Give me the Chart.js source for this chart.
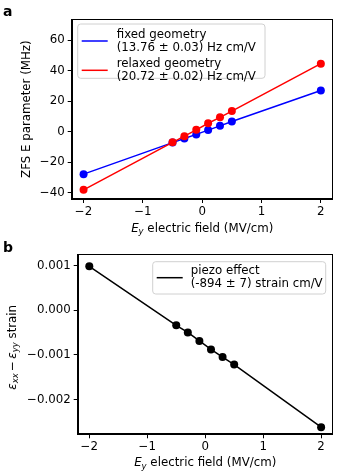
<!DOCTYPE html>
<html>
<head>
<meta charset="utf-8">
<script src="https://cdn.jsdelivr.net/npm/chart.js@4"></script>
<style>
  html, body { margin: 0; padding: 0; background: #fff; }
  #wrap { position: relative; width: 343px; height: 475px; }
  canvas { position: absolute; left: 0; }
  #chart-a { top: 0; }
  #chart-b { top: 240px; }
</style>
</head>
<body>
<div id="wrap">
  <canvas id="chart-a" width="343" height="240"></canvas>
  <canvas id="chart-b" width="343" height="235"></canvas>
</div>
<script>
// electric field values (MV/cm)
const fieldValues = [-2, -0.5, -0.3, -0.1, 0.1, 0.3, 0.5, 2];

// panel a: ZFS E parameter (MHz)
const fixedGeometry = [-27.8, -7.1, -4.4, -1.7, 1.1, 3.9, 6.7, 27.1];
const relaxedGeometry = [-38.1, -6.9, -2.9, 1.3, 5.6, 9.5, 13.6, 44.7];

// panel b: strain
const piezoStrain = [0.00098, -0.00034, -0.00050, -0.00069, -0.00088, -0.00105, -0.00122, -0.00262];

const xTicks = [-2, -1, 0, 1, 2];
const yTicksA = [-40, -20, 0, 20, 40, 60];
const yTicksB = [-0.002, -0.001, 0, 0.001];

const fixedLabel = ["fixed geometry", "(13.76 \u00b1 0.03) Hz cm/V"];
const relaxedLabel = ["relaxed geometry", "(20.72 \u00b1 0.02) Hz cm/V"];
const piezoLabel = ["piezo effect", "(-894 \u00b1 7) strain cm/V"];

const xTitle = { sym: "E", sub: "y", rest: " electric field (MV/cm)" };
const yTitleA = "ZFS E parameter (MHz)";

const FONT = "DejaVu Sans";
const FS = 11.8;

function fmtMinus(v, digits) {
    const s = digits ? Math.abs(v).toFixed(digits) : String(Math.abs(v));
    return v < 0 ? "\u2212" + s : s;
}

function toPoints(xs, ys) {
    return xs.map((x, i) => ({ x: x, y: ys[i] }));
}

function f(size, style) {
    return (style ? style + " " : "") + size + "px '" + FONT + "'";
}

// draw frame, legend, axis titles and panel letter
const decorPlugin = {
    id: "decor",
    afterDraw(chart, args, opts) {
        const ctx = chart.ctx;
        const a = chart.chartArea;
        ctx.save();

        // full box around axes
        ctx.strokeStyle = "#000";
        ctx.lineWidth = 1;
        ctx.strokeRect(Math.round(a.left) + 0.5, Math.round(a.top) + 0.5,
            Math.round(a.right - a.left) - 1, Math.round(a.bottom - a.top) - 1);

        // legend
        const lg = opts.legend;
        const bx = lg.fromRight ? a.right - lg.dx - lg.w : a.left + lg.dx;
        const by = a.top + lg.dy;
        ctx.beginPath();
        ctx.roundRect(bx, by, lg.w, lg.h, 3);
        ctx.fillStyle = "rgba(255,255,255,0.8)";
        ctx.fill();
        ctx.strokeStyle = "#d0d0d0";
        ctx.stroke();
        ctx.font = f(FS);
        ctx.textBaseline = "middle";
        lg.entries.forEach((e, i) => {
            const cy = by + lg.firstY + i * lg.step;
            ctx.strokeStyle = e.color;
            ctx.lineWidth = 1.5;
            ctx.beginPath();
            ctx.moveTo(bx + 4, cy);
            ctx.lineTo(bx + 30, cy);
            ctx.stroke();
            ctx.fillStyle = "#000";
            ctx.textAlign = "left";
            ctx.fillText(e.text[0], bx + lg.textX, cy - 6.3);
            ctx.fillText(e.text[1], bx + lg.textX, cy + 6.5);
        });

        // x title with italic E and subscript y
        ctx.fillStyle = "#000";
        ctx.textBaseline = "alphabetic";
        ctx.textAlign = "left";
        const itFont = f(FS, "italic");
        const subFont = f(FS * 0.72, "italic");
        const nFont = f(FS);
        ctx.font = itFont; const w1 = ctx.measureText(xTitle.sym).width;
        ctx.font = subFont; const w2 = ctx.measureText(xTitle.sub).width;
        ctx.font = nFont; const w3 = ctx.measureText(xTitle.rest).width;
        let x0 = (a.left + a.right) / 2 - (w1 + w2 + w3) / 2;
        const base = a.bottom + opts.xTitleGap;
        ctx.font = itFont; ctx.fillText(xTitle.sym, x0, base);
        ctx.font = subFont; ctx.fillText(xTitle.sub, x0 + w1, base + 2.5);
        ctx.font = nFont; ctx.fillText(xTitle.rest, x0 + w1 + w2, base);

        // y title (rotated)
        ctx.translate(opts.yTitleX, (a.top + a.bottom) / 2 + (opts.yTitleShift || 0));
        ctx.rotate(-Math.PI / 2);
        ctx.textBaseline = "middle";
        const parts = opts.yTitle;
        let tw = 0;
        parts.forEach(p => { ctx.font = p.font; p.w = ctx.measureText(p.t).width; tw += p.w; });
        let px = -tw / 2;
        parts.forEach(p => {
            ctx.font = p.font;
            ctx.fillText(p.t, px, p.dy || 0);
            px += p.w;
        });
        ctx.restore();

        // panel letter
        ctx.save();
        ctx.fillStyle = "#000";
        ctx.font = f(14, "bold");
        ctx.textBaseline = "middle";
        ctx.textAlign = "left";
        ctx.fillText(opts.letter, 3, opts.letterY);
        ctx.restore();
    }
};

function makeScales(yTicks, yMin, yMax, yDigits, yWidth, xHeight) {
    return {
        x: {
            type: "linear",
            min: -2.2,
            max: 2.2,
            afterBuildTicks: s => { s.ticks = xTicks.map(v => ({ value: v })); },
            afterFit: s => { s.height = xHeight; },
            grid: { drawOnChartArea: false, drawTicks: true, tickLength: 4, color: "#000" },
            border: { display: true, color: "#000", width: 1 },
            ticks: {
                color: "#000",
                padding: 2,
                maxRotation: 0,
                font: { family: FONT, size: FS },
                callback: v => fmtMinus(v, 0)
            }
        },
        y: {
            type: "linear",
            min: yMin,
            max: yMax,
            afterBuildTicks: s => { s.ticks = yTicks.map(v => ({ value: v })); },
            afterFit: s => { s.width = yWidth; },
            grid: { drawOnChartArea: false, drawTicks: true, tickLength: 4, color: "#000" },
            border: { display: true, color: "#000", width: 1 },
            ticks: {
                color: "#000",
                padding: 3,
                font: { family: FONT, size: FS },
                callback: v => fmtMinus(v, yDigits)
            }
        }
    };
}

function lineSet(label, xs, ys, color, order) {
    return {
        label: label.join(" "),
        data: toPoints(xs, ys),
        borderColor: color,
        backgroundColor: color,
        borderWidth: 1.5,
        pointRadius: 4,
        pointBorderWidth: 0,
        pointHoverRadius: 4,
        order: order
    };
}

const commonOpts = {
    responsive: false,
    animation: false,
    devicePixelRatio: 1
};

new Chart(document.getElementById("chart-a").getContext("2d"), {
    type: "line",
    data: {
        datasets: [
            lineSet(fixedLabel, fieldValues, fixedGeometry, "#0000ff", 1),
            lineSet(relaxedLabel, fieldValues, relaxedGeometry, "#ff0000", 0)
        ]
    },
    options: Object.assign({}, commonOpts, {
        layout: { padding: { top: 19.3, right: 10.3, left: 0, bottom: 0 } },
        scales: makeScales(yTicksA, -44.1, 73.8, 0, 71.7, 41),
        plugins: {
            legend: { display: false },
            tooltip: { enabled: false },
            decor: {
                letter: "a",
                letterY: 12,
                xTitleGap: 32.5,
                yTitleX: 27,
                yTitle: [{ t: yTitleA, font: f(FS) }],
                legend: {
                    dx: 6, dy: 4.7, w: 187.3, h: 54.3, textX: 39, firstY: 17, step: 29.3,
                    entries: [
                        { color: "#0000ff", text: fixedLabel },
                        { color: "#ff0000", text: relaxedLabel }
                    ]
                }
            }
        }
    }),
    plugins: [decorPlugin]
});

new Chart(document.getElementById("chart-b").getContext("2d"), {
    type: "line",
    data: {
        datasets: [lineSet(piezoLabel, fieldValues, piezoStrain, "#000000", 0)]
    },
    options: Object.assign({}, commonOpts, {
        layout: { padding: { top: 14.3, right: 10.3, left: 0, bottom: 0 } },
        scales: makeScales(yTicksB, -0.00278, 0.00125, 3, 77.7, 40.7),
        plugins: {
            legend: { display: false },
            tooltip: { enabled: false },
            decor: {
                letter: "b",
                letterY: 8,
                xTitleGap: 32,
                yTitleX: 13.3,
                yTitleShift: 3,
                yTitle: [
                    { t: "\u03b5", font: f(FS, "italic") },
                    { t: "xx", font: f(FS * 0.72, "italic"), dy: 2.5 },
                    { t: "\u2009\u2212\u2009", font: f(FS) },
                    { t: "\u03b5", font: f(FS, "italic") },
                    { t: "yy", font: f(FS * 0.72, "italic"), dy: 2.5 },
                    { t: " strain", font: f(FS) }
                ],
                legend: {
                    fromRight: true,
                    dx: 7, dy: 7.4, w: 173, h: 32.3, textX: 38, firstY: 16, step: 0,
                    entries: [{ color: "#000000", text: piezoLabel }]
                }
            }
        }
    }),
    plugins: [decorPlugin]
});
</script>
</body>
</html>
